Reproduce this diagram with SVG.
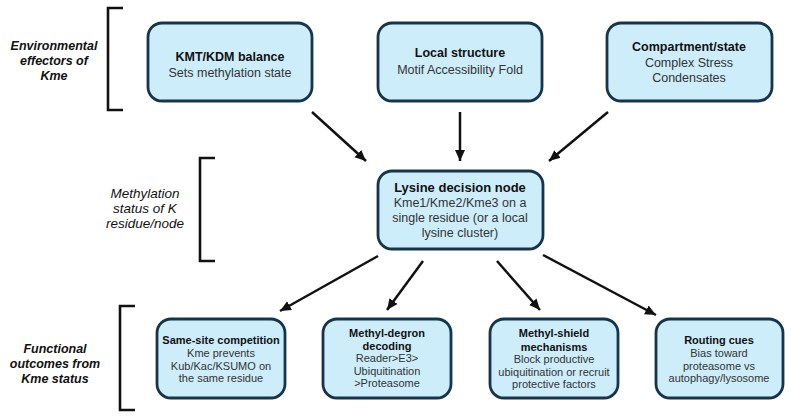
<svg xmlns="http://www.w3.org/2000/svg" width="791" height="419" viewBox="0 0 791 419">
<defs>
<style>
.box{fill:#cdedfb;stroke:#16344a;stroke-width:2.8}
.t{font-family:"Liberation Sans",Arial,sans-serif;fill:#111;text-anchor:middle}
.h{font-weight:bold;font-size:12.5px}
.b{font-size:12.5px;fill:#333}
.hs{font-weight:bold;font-size:11px}
.bs{font-size:11px;fill:#333}
.lab{font-family:"Liberation Sans",Arial,sans-serif;font-style:italic;font-weight:bold;font-size:12.5px;fill:#111;text-anchor:middle}
.lab2{font-family:"Liberation Sans",Arial,sans-serif;font-style:italic;font-size:13.5px;fill:#111;text-anchor:middle}
.br{fill:none;stroke:#111;stroke-width:2.6}
.conn{stroke:#111;stroke-width:2.5;fill:none;marker-end:url(#ah)}
</style>
<marker id="ah" markerUnits="userSpaceOnUse" markerWidth="12" markerHeight="12" viewBox="0 0 12 12" refX="11" refY="6" orient="auto">
<path d="M0,1 L11,6 L0,11 Z" fill="#111"/>
</marker>
</defs>
<rect width="791" height="419" fill="#fff"/>
<g id="brackets">
<path class="br" d="M123,8 H108 V110 H123"/>
<path class="br" d="M215,158 H200 V261 H215"/>
<path class="br" d="M135,306 H120 V410 H135"/>
</g>
<g id="labels">
<text class="lab" x="54" y="50">Environmental</text>
<text class="lab" x="54" y="65">effectors of</text>
<text class="lab" x="54" y="80">Kme</text>
<text class="lab2" x="145" y="198">Methylation</text>
<text class="lab2" x="145" y="213">status of K</text>
<text class="lab2" x="145" y="228">residue/node</text>
<text class="lab" x="55" y="353">Functional</text>
<text class="lab" x="55" y="368">outcomes from</text>
<text class="lab" x="55" y="383">Kme status</text>
</g>
<g id="connectors">
<line class="conn" x1="312" y1="112" x2="366" y2="161"/>
<line class="conn" x1="460" y1="112" x2="460" y2="161"/>
<line class="conn" x1="608" y1="112" x2="549" y2="161"/>
<line class="conn" x1="378" y1="256" x2="280" y2="311"/>
<line class="conn" x1="423" y1="261" x2="387" y2="310"/>
<line class="conn" x1="497" y1="261" x2="540" y2="310"/>
<line class="conn" x1="543" y1="255" x2="656" y2="315"/>
</g>
<g id="kmt">
<rect class="box" x="148" y="23" width="164" height="78" rx="14"/>
<text class="t h" x="230" y="61">KMT/KDM balance</text>
<text class="t b" x="230" y="77">Sets methylation state</text>
</g>
<g id="local">
<rect class="box" x="378" y="23" width="164" height="78" rx="14"/>
<text class="t h" x="460" y="57">Local structure</text>
<text class="t b" x="460" y="74">Motif Accessibility Fold</text>
</g>
<g id="compartment">
<rect class="box" x="607" y="23" width="165" height="78" rx="14"/>
<text class="t h" x="689" y="51">Compartment/state</text>
<text class="t b" x="689" y="67">Complex Stress</text>
<text class="t b" x="689" y="82">Condensates</text>
</g>
<g id="lysine">
<rect class="box" x="378" y="171" width="165" height="78" rx="14"/>
<text class="t h" x="460" y="192" style="font-size:13px">Lysine decision node</text>
<text class="t b" x="460" y="207">Kme1/Kme2/Kme3 on a</text>
<text class="t b" x="460" y="222">single residue (or a local</text>
<text class="t b" x="460" y="237">lysine cluster)</text>
</g>
<g id="samesite">
<rect class="box" x="157" y="319" width="128" height="79" rx="14"/>
<text class="t hs" x="221" y="344">Same-site competition</text>
<text class="t bs" x="221" y="357">Kme prevents</text>
<text class="t bs" x="221" y="370">Kub/Kac/KSUMO on</text>
<text class="t bs" x="221" y="382">the same residue</text>
</g>
<g id="degron">
<rect class="box" x="323" y="319" width="128" height="79" rx="14"/>
<text class="t hs" x="387" y="337">Methyl-degron</text>
<text class="t hs" x="387" y="350">decoding</text>
<text class="t bs" x="387" y="362">Reader&gt;E3&gt;</text>
<text class="t bs" x="387" y="375">Ubiquitination</text>
<text class="t bs" x="387" y="387">&gt;Proteasome</text>
</g>
<g id="shield">
<rect class="box" x="490" y="319" width="128" height="79" rx="14"/>
<text class="t hs" x="554" y="337">Methyl-shield</text>
<text class="t hs" x="554" y="351">mechanisms</text>
<text class="t bs" x="554" y="363">Block productive</text>
<text class="t bs" x="554" y="376">ubiquitination or recruit</text>
<text class="t bs" x="554" y="388">protective factors</text>
</g>
<g id="routing">
<rect class="box" x="656" y="319" width="127" height="79" rx="14"/>
<text class="t hs" x="719" y="344">Routing cues</text>
<text class="t bs" x="719" y="357">Bias toward</text>
<text class="t bs" x="719" y="370">proteasome vs</text>
<text class="t bs" x="719" y="382">autophagy/lysosome</text>
</g>
</svg>
